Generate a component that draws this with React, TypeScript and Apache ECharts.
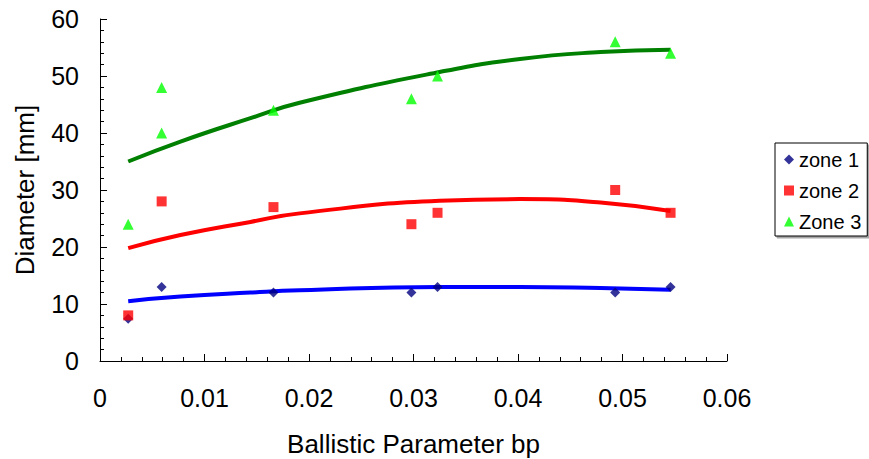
import React, { useEffect, useRef } from "react";
import * as echarts from "echarts";

const zone1X = [0.0027, 0.0059, 0.0166, 0.0298, 0.0323, 0.0493, 0.0546];
const zone1Y = [7.4, 13, 12, 12, 13, 12, 13];
const zone2X = [0.0027, 0.0059, 0.0166, 0.0298, 0.0323, 0.0493, 0.0546];
const zone2Y = [8, 28, 27, 24, 26, 30, 26];
const zone3X = [0.0027, 0.0059, 0.0059, 0.0166, 0.0298, 0.0323, 0.0493, 0.0546];
const zone3Y = [24, 48, 40, 44, 46, 50, 56, 54];

const trendX = [0.0027, 0.0077, 0.0144, 0.0191, 0.0325, 0.0402, 0.0479, 0.0546];
const trend1Y = [10.5, 11.3, 12.0, 12.4, 13.0, 13.0, 12.8, 12.5];
const trend2Y = [19.8, 22.1, 24.4, 25.9, 28.1, 28.4, 27.8, 26.3];
const trend3Y = [35.0, 38.5, 42.6, 45.3, 50.7, 53.0, 54.2, 54.6];

const xTicks = [0, 0.01, 0.02, 0.03, 0.04, 0.05, 0.06];
const yTicks = [0, 10, 20, 30, 40, 50, 60];

const legendNames = ["zone 1", "zone 2", "Zone 3"];

const pair = (xs: number[], ys: number[]) => xs.map((x, i) => [x, ys[i]]);

const FONT = "Liberation Sans, Arial, sans-serif";

export default function App() {
  const ref = useRef<HTMLDivElement>(null);
  useEffect(() => {
    if (!ref.current) return;
    const chart = echarts.init(ref.current, null, { renderer: "svg" });
    const axisCommon = {
      axisLine: { show: true, lineStyle: { color: "#000", width: 1 } },
      axisTick: { show: true, inside: true, length: 7, lineStyle: { color: "#000", width: 1 } },
      minorTick: { show: true, splitNumber: 5, length: 4, lineStyle: { color: "#000", width: 1 } },
      splitLine: { show: false },
      nameLocation: "middle" as const,
    };
    chart.setOption({
      animation: false,
      backgroundColor: "#fff",
      textStyle: { fontFamily: FONT },
      grid: { left: 100, right: 142, top: 19, bottom: 98, containLabel: false, outerBoundsMode: "none" },
      legend: {
        data: legendNames,
        orient: "vertical",
        left: 775,
        top: 143,
        padding: [6, 6, 4, 9],
        itemGap: 10,
        itemWidth: 10,
        itemHeight: 10,
        borderColor: "#000",
        borderWidth: 1,
        shadowColor: "rgba(0,0,0,0.35)",
        shadowOffsetX: 2,
        shadowOffsetY: 2,
        backgroundColor: "#fff",
        textStyle: { fontSize: 20, color: "#000", fontFamily: FONT, lineHeight: 21 },
      },
      xAxis: {
        type: "value",
        min: xTicks[0],
        max: xTicks[xTicks.length - 1],
        interval: 0.01,
        name: "Ballistic Parameter bp",
        nameGap: 70,
        nameTextStyle: { fontSize: 26, color: "#000", fontFamily: FONT },
        axisLabel: {
          fontSize: 25,
          color: "#000",
          margin: 24,
          fontFamily: FONT,
          formatter: (v: number) => (xTicks.some((t) => Math.abs(t - v) < 1e-9) ? String(+v.toFixed(2)) : ""),
        },
        ...axisCommon,
      },
      yAxis: {
        type: "value",
        min: yTicks[0],
        max: yTicks[yTicks.length - 1],
        interval: 10,
        name: "Diameter [mm]",
        nameGap: 62,
        nameRotate: 90,
        nameTextStyle: { fontSize: 26, color: "#000", fontFamily: FONT },
        axisLabel: { fontSize: 25, color: "#000", margin: 21, fontFamily: FONT },
        ...axisCommon,
      },
      series: [
        {
          name: "trend 1",
          type: "line",
          data: pair(trendX, trend1Y),
          smooth: true,
          showSymbol: false,
          lineStyle: { color: "#0000ff", width: 4 },
          z: 2,
        },
        {
          name: "trend 2",
          type: "line",
          data: pair(trendX, trend2Y),
          smooth: true,
          showSymbol: false,
          lineStyle: { color: "#ff0000", width: 4 },
          z: 2,
        },
        {
          name: "trend 3",
          type: "line",
          data: pair(trendX, trend3Y),
          smooth: true,
          showSymbol: false,
          lineStyle: { color: "#008000", width: 4 },
          z: 2,
        },
        {
          name: legendNames[0],
          type: "scatter",
          data: pair(zone1X, zone1Y),
          symbol: "diamond",
          symbolSize: 10,
          itemStyle: { color: "#000080" },
          z: 3,
        },
        {
          name: legendNames[1],
          type: "scatter",
          data: pair(zone2X, zone2Y),
          symbol: "rect",
          symbolSize: 10,
          itemStyle: { color: "#ff0000" },
          z: 3,
        },
        {
          name: legendNames[2],
          type: "scatter",
          data: pair(zone3X, zone3Y),
          symbol: "triangle",
          symbolSize: 11,
          itemStyle: { color: "#00ff00" },
          z: 3,
        },
      ],
    });
    return () => chart.dispose();
  }, []);
  return <div ref={ref} style={{ width: 869, height: 459, position: "absolute", left: 0, top: 0 }} />;
}
